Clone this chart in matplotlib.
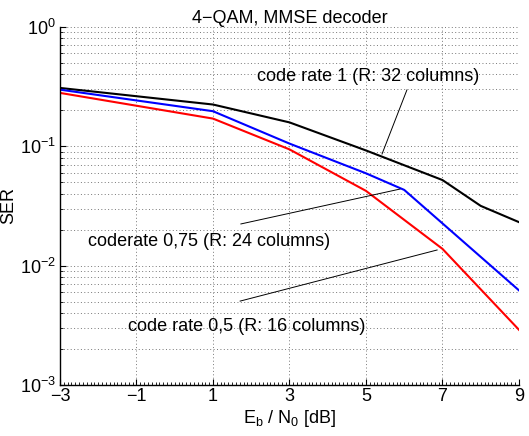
import numpy as np
import matplotlib
matplotlib.use("Agg")
import matplotlib.pyplot as plt
from matplotlib.ticker import MultipleLocator, LogLocator, NullFormatter

plt.rcParams['font.family'] = ['Liberation Sans', 'DejaVu Sans']
plt.rcParams['mathtext.fontset'] = 'custom'
plt.rcParams['mathtext.rm'] = 'Liberation Sans'
plt.rcParams['mathtext.it'] = 'Liberation Sans:italic'

# SER curves
snr_r1 = [-3, 1, 3, 5, 7, 8, 9]
ser_r1 = [0.307, 0.223, 0.158, 0.092, 0.052, 0.0316, 0.0231]

snr_r075 = [-3, 1, 3, 5, 6, 9]
ser_r075 = [0.297, 0.196, 0.105, 0.0592, 0.043, 0.0062]

snr_r05 = [-3, 1, 3, 5, 7, 9]
ser_r05 = [0.279, 0.170, 0.0939, 0.0422, 0.0138, 0.0029]

x_ticks = [-3, -1, 1, 3, 5, 7, 9]

fs = 13

fig = plt.figure(figsize=(5.29, 4.36), dpi=100)
ax = fig.add_axes([0.1134, 0.117, 0.8676, 0.8218])

ax.semilogy(snr_r1, ser_r1, color='black', lw=1.5)
ax.semilogy(snr_r075, ser_r075, color='blue', lw=1.5)
ax.semilogy(snr_r05, ser_r05, color='red', lw=1.5)

ax.set_xlim(-3, 9)
ax.set_ylim(1e-3, 1)
ax.set_xticks(x_ticks)
ax.set_xticklabels([str(t).replace('-', '\u2212') for t in x_ticks])
ax.xaxis.set_minor_locator(MultipleLocator(0.1))
ax.yaxis.set_major_locator(LogLocator(base=10, numticks=10))
ax.yaxis.set_minor_locator(LogLocator(base=10, subs=np.arange(2, 10), numticks=10))
ax.yaxis.set_minor_formatter(NullFormatter())

grid_style = dict(ls=(0, (1, 2.5)), color='#777777', lw=0.7)
ax.grid(True, which='major', axis='x', **grid_style)
ax.grid(True, which='both', axis='y', **grid_style)

ax.spines['top'].set_visible(False)
ax.spines['right'].set_visible(False)
ax.spines['left'].set_linewidth(1.0)
ax.spines['bottom'].set_linewidth(1.0)
ax.tick_params(which='major', direction='in', length=4, labelsize=fs, width=0.8)
ax.tick_params(which='minor', direction='in', length=2, width=0.6)
ax.tick_params(axis='x', pad=2)
ax.tick_params(axis='y', pad=3)

ax.set_title('4\u2212QAM, MMSE decoder', fontsize=fs, pad=2)
ax.set_xlabel(r'E$_\mathrm{b}$ / N$_\mathrm{0}$ [dB]', fontsize=fs, labelpad=2)
ax.set_ylabel('SER', fontsize=fs, labelpad=2)

# annotations
ax.text(2.15, 0.386, 'code rate 1 (R: 32 columns)', fontsize=fs, va='center')
ax.plot([6.07, 5.42], [0.295, 0.0859], color='black', lw=0.7)
ax.text(-2.27, 0.0158, 'coderate 0,75 (R: 24 columns)', fontsize=fs, va='center')
ax.plot([1.73, 5.89], [0.0223, 0.0437], color='black', lw=0.7)
ax.text(-1.22, 0.00307, 'code rate 0,5 (R: 16 columns)', fontsize=fs, va='center')
ax.plot([1.71, 6.86], [0.00504, 0.0135], color='black', lw=0.7)

fig.savefig('out.png', dpi=100)
